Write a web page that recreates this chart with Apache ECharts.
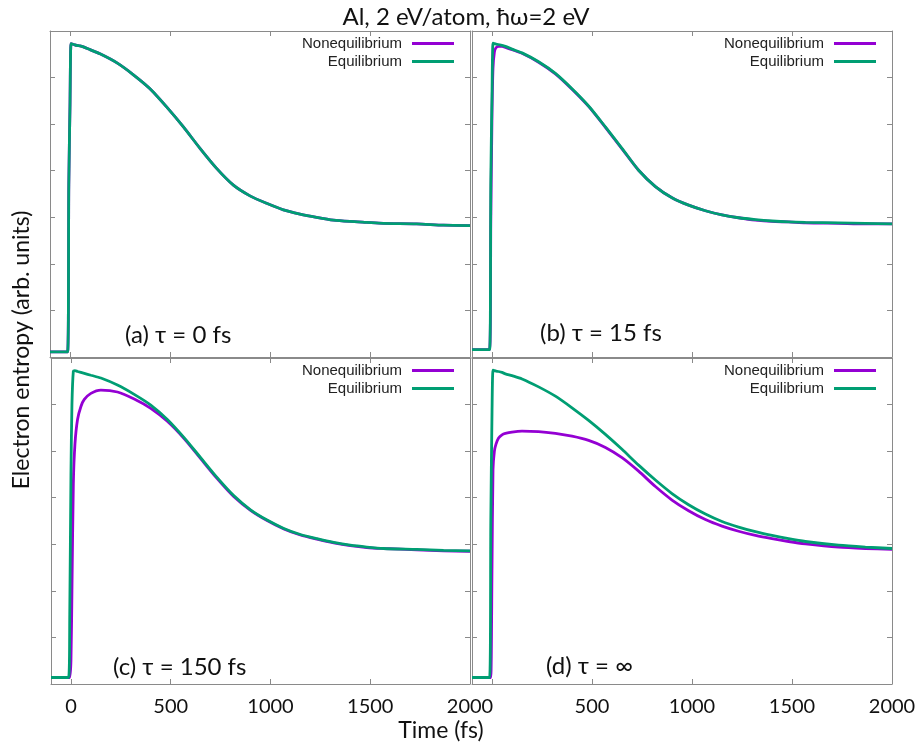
<!DOCTYPE html>
<html>
<head>
<meta charset="utf-8">
<script src="https://cdn.jsdelivr.net/npm/echarts@6/dist/echarts.min.js"></script>
<style>
  html, body { margin: 0; padding: 0; background: #ffffff; }
  #chart { width: 919px; height: 745px; }
</style>
</head>
<body>
<div id="chart"></div>
<script>
// Time grid (fs) shared by all curves
const time = [-100, -12, -6, 0, 5, 12, 20, 33, 50, 67, 100, 150, 233, 317, 400, 483, 567, 650,
  733, 817, 900, 983, 1067, 1150, 1233, 1317, 1400, 1483, 1567, 1733, 1867, 2000];

// (a) tau = 0 fs
const eqA = [0.11, 0.11, 3.7, 5.4, 6.73, 6.72, 6.71, 6.69, 6.68, 6.66, 6.60, 6.51, 6.32, 6.06, 5.76, 5.37, 4.94, 4.48,
  4.05, 3.69, 3.46, 3.30, 3.16, 3.07, 3.00, 2.94, 2.91, 2.89, 2.87, 2.86, 2.83, 2.82];
const neqA = [0.11, 0.11, 3.7, 5.4, 6.73, 6.72, 6.71, 6.69, 6.68, 6.66, 6.60, 6.51, 6.32, 6.06, 5.76, 5.37, 4.94, 4.48,
  4.05, 3.69, 3.46, 3.30, 3.16, 3.07, 3.00, 2.94, 2.91, 2.89, 2.87, 2.86, 2.83, 2.82];

// (b) tau = 15 fs
const eqB = [0.16, 0.16, 3.8, 5.6, 6.74, 6.73, 6.72, 6.71, 6.69, 6.67, 6.61, 6.53, 6.34, 6.09, 5.76, 5.39, 4.94, 4.48,
  4.01, 3.66, 3.42, 3.26, 3.14, 3.05, 2.99, 2.95, 2.92, 2.90, 2.89, 2.88, 2.87, 2.86];
const neqB = [0.16, 0.16, 2.9, 5.2, 6.20, 6.55, 6.64, 6.67, 6.67, 6.65, 6.60, 6.52, 6.33, 6.08, 5.75, 5.38, 4.93, 4.47,
  4.01, 3.66, 3.42, 3.26, 3.14, 3.05, 2.99, 2.94, 2.91, 2.90, 2.88, 2.87, 2.86, 2.86];

// (c) tau = 150 fs
const eqC = [0.14, 0.14, 1.5, 4.5, 6.0, 6.72, 6.73, 6.71, 6.69, 6.67, 6.63, 6.57, 6.42, 6.22, 5.99, 5.68, 5.29, 4.86,
  4.43, 4.04, 3.74, 3.52, 3.34, 3.21, 3.12, 3.04, 2.98, 2.94, 2.91, 2.89, 2.87, 2.86];
const neqC = [0.14, 0.14, 0.14, 0.5, 2.0, 4.3, 5.15, 5.68, 5.96, 6.11, 6.24, 6.31, 6.27, 6.12, 5.92, 5.64, 5.27, 4.84,
  4.41, 4.02, 3.73, 3.51, 3.33, 3.20, 3.11, 3.03, 2.97, 2.93, 2.91, 2.88, 2.86, 2.85];

// (d) tau = infinity
const eqD = [0.14, 0.14, 3.5, 5.8, 6.74, 6.73, 6.72, 6.71, 6.69, 6.66, 6.62, 6.55, 6.38, 6.18, 5.93, 5.66, 5.36, 5.04,
  4.70, 4.38, 4.09, 3.85, 3.65, 3.49, 3.37, 3.27, 3.19, 3.12, 3.06, 2.98, 2.94, 2.91];
const neqD = [0.14, 0.14, 0.14, 2.5, 4.6, 5.0, 5.15, 5.28, 5.35, 5.38, 5.41, 5.43, 5.42, 5.38, 5.32, 5.23, 5.08, 4.86,
  4.57, 4.24, 3.95, 3.72, 3.53, 3.39, 3.28, 3.19, 3.12, 3.06, 3.01, 2.94, 2.91, 2.89];

// Axis ticks and labels
const xTicks = [0, 500, 1000, 1500, 2000];
const xLabelsLeft = [0, 500, 1000, 1500, 2000];
const xLabelsRight = [500, 1000, 1500, 2000];
const panelTags = ['(a) τ = 0 fs', '(b) τ = 15 fs', '(c) τ = 150 fs', '(d) τ = ∞'];
const seriesNames = ['Nonequilibrium', 'Equilibrium'];
const titleText = 'Al, 2 eV/atom, ħω=2 eV';
const xTitle = 'Time (fs)';
const yTitle = 'Electron entropy (arb. units)';

const panels = [
  { eq: eqA, neq: neqA },
  { eq: eqB, neq: neqB },
  { eq: eqC, neq: neqC },
  { eq: eqD, neq: neqD }
];

const PURPLE = '#9400d3';
const GREEN = '#009e73';
const FRAME = '#8a8a8a';
const FONT = 'Lato, "Open Sans", sans-serif';
const KEY_FONT = '"Liberation Sans", Arial, sans-serif';

const grids = [
  { left: 50, top: 31, width: 420, height: 326 },
  { left: 472, top: 31, width: 420, height: 326 },
  { left: 51, top: 358, width: 419, height: 326 },
  { left: 472, top: 358, width: 420, height: 326 }
];

const xAxes = [];
const yAxes = [];
const series = [];
const legends = [];
const graphics = [];

grids.forEach((g, i) => {
  const frameLine = { show: true, onZero: false, lineStyle: { color: FRAME, width: 1 } };
  const ticks = { show: true, inside: true, length: 5, customValues: xTicks, lineStyle: { color: FRAME } };
  xAxes.push({
    type: 'value', gridIndex: i, min: -100, max: 2000, position: 'bottom',
    axisLine: frameLine, axisTick: ticks, splitLine: { show: false },
    axisLabel: {
      show: i >= 2,
      customValues: i === 2 ? xLabelsLeft : xLabelsRight,
      formatter: v => String(v),
      fontFamily: FONT, fontSize: 20, color: '#111', margin: 13
    }
  });
  xAxes.push({
    type: 'value', gridIndex: i, min: -100, max: 2000, position: 'top',
    axisLine: frameLine, axisTick: ticks, splitLine: { show: false },
    axisLabel: { show: false }
  });
  ['left', 'right'].forEach(pos => {
    yAxes.push({
      type: 'value', gridIndex: i, min: 0, max: 7, interval: 1, position: pos,
      axisLine: frameLine,
      axisTick: { show: true, inside: true, length: 5, lineStyle: { color: FRAME } },
      axisLabel: { show: false }, splitLine: { show: false }
    });
  });

  const p = panels[i];
  [[seriesNames[0], p.neq, PURPLE], [seriesNames[1], p.eq, GREEN]].forEach(([name, vals, color]) => {
    series.push({
      name, type: 'line', xAxisIndex: 2 * i, yAxisIndex: 2 * i,
      data: time.map((t, k) => [t, vals[k]]),
      showSymbol: false, symbol: 'none', smooth: 0.25,
      lineStyle: { color, width: 2.8 }, itemStyle: { color },
      z: name === 'Equilibrium' ? 3 : 2, animation: false
    });
  });

  // key in the top-right corner of each panel
  const keyRight = 919 - (g.left + g.width) + 16;
  seriesNames.forEach((name, k) => {
    legends.push({
      data: [name], right: keyRight, top: g.top + 5 + 18 * k,
      orient: 'horizontal', align: 'right', padding: 0,
      icon: 'rect', itemWidth: 42, itemHeight: 3, itemGap: 0,
      selectedMode: false,
      textStyle: { fontFamily: KEY_FONT, fontSize: 15, color: '#222', padding: [0, 5, 0, 0] }
    });
  });

  graphics.push({
    type: 'text',
    left: [125, 540, 113, 546][i],
    top: [323, 321, 655, 654][i],
    style: { text: panelTags[i], font: '24px ' + FONT, fill: '#111' }
  });
});

graphics.push({
  type: 'text', x: 441, y: 731,
  style: { text: xTitle, font: '23px ' + FONT, fill: '#111', align: 'center', verticalAlign: 'middle' }
});
graphics.push({
  type: 'text', x: 22, y: 350, rotation: Math.PI / 2,
  style: { text: yTitle, font: '23px ' + FONT, fill: '#111', align: 'center', verticalAlign: 'middle' }
});

const chart = echarts.init(document.getElementById('chart'), null, { renderer: 'canvas' });
chart.setOption({
  backgroundColor: '#ffffff',
  animation: false,
  title: {
    text: titleText, left: 461, top: 0,
    textAlign: 'center',
    textStyle: { fontFamily: FONT, fontSize: 24, fontWeight: 'normal', color: '#111' }
  },
  grid: grids,
  xAxis: xAxes,
  yAxis: yAxes,
  legend: legends,
  series: series,
  graphic: graphics
});
</script>
</body>
</html>
